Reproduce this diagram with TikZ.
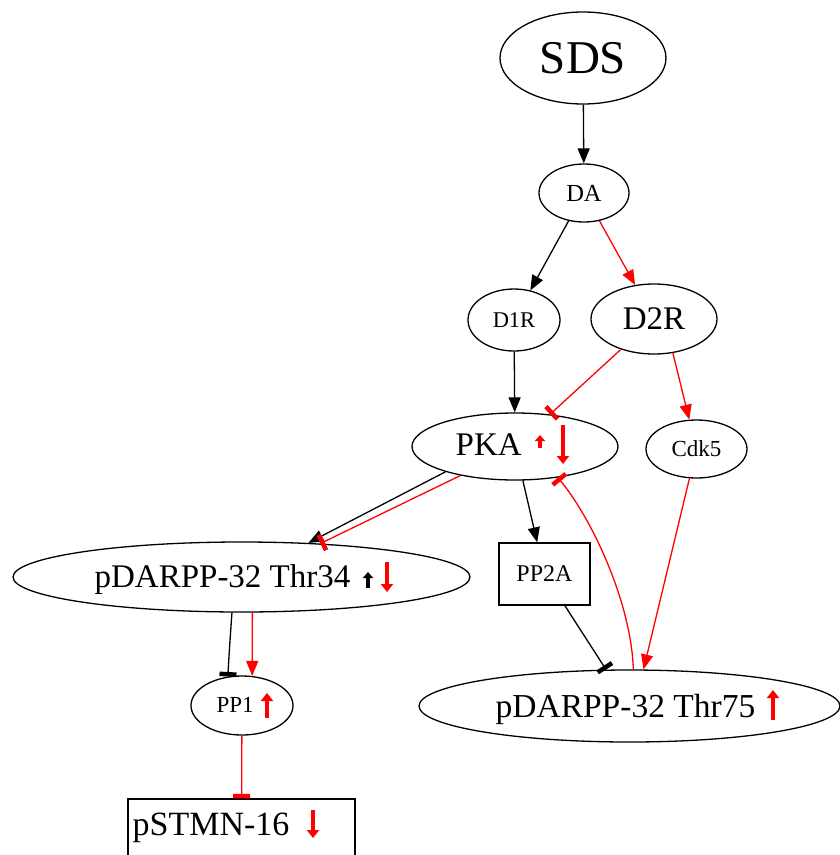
\documentclass[tikz,border=0pt]{standalone}
\usepackage{fontspec}
\setmainfont{Liberation Serif}
\usetikzlibrary{arrows.meta,shapes.geometric}
\begin{document}
\begin{tikzpicture}[x=1pt,y=-1pt, line width=1.3pt,
  ell/.style={draw, ellipse, inner sep=0pt, line width=1.3pt},
  box/.style={draw, rectangle, inner sep=0pt, line width=1.3pt},
  lab/.style={inner sep=0pt, anchor=base west},
  act/.style={-{Triangle[length=15pt,width=12pt]}},
  inh/.style={-{Rectangle[length=4.5pt,width=17pt]}},
  mkb/.style={line width=4.5pt, -{Triangle[length=8pt,width=12pt]}},
  mks/.style={line width=3.8pt, -{Triangle[length=6pt,width=10pt]}}]
\useasboundingbox (0,0) rectangle (840,855);

% nodes
\node[ell, minimum width=166pt, minimum height=92pt, font=\fontsize{47}{50}\selectfont] (sds) at (583,58) {SDS};
\node[ell, minimum width=90pt, minimum height=58pt, font=\fontsize{24.5}{28}\selectfont] (da) at (584,193) {DA};
\node[ell, minimum width=92pt, minimum height=62pt, font=\fontsize{22.5}{26}\selectfont] (d1r) at (514,320) {D1R};
\node[ell, minimum width=126pt, minimum height=70pt, font=\fontsize{33}{36}\selectfont] (d2r) at (654,319) {D2R};
\node[ell, minimum width=206pt, minimum height=67pt] (pka) at (515,446.5) {};
\node[lab, font=\fontsize{33}{36}\selectfont] (pkat) at (455,455) {PKA};
\node[ell, minimum width=101pt, minimum height=58pt, font=\fontsize{23}{26}\selectfont] (cdk5) at (696.5,449) {Cdk5};
\node[ell, minimum width=457pt, minimum height=70pt] (thr34) at (241.5,577) {};
\node[lab, font=\fontsize{33}{37}\selectfont] (thr34t) at (94,587) {pDARPP-32 Thr34};
\node[box, minimum width=91pt, minimum height=62pt, font=\fontsize{24}{27}\selectfont] (pp2a) at (544.5,574) {PP2A};
\node[ell, minimum width=102pt, minimum height=59pt] (pp1) at (242,705.5) {};
\node[lab, font=\fontsize{23}{26}\selectfont] (pp1t) at (216,712) {PP1};
\node[ell, minimum width=421pt, minimum height=72pt] (thr75) at (629.5,706) {};
\node[lab, font=\fontsize{33.5}{37}\selectfont] (thr75t) at (495,717) {pDARPP-32 Thr75};
\node[box, minimum width=227pt, minimum height=64pt] (pstmn) at (241.5,831) {};
\node[lab, font=\fontsize{34}{37}\selectfont] (pstmnt) at (132,835) {pSTMN-16};

% connectors
\draw[act] (sds) -- (da);
\draw[act] (da) -- (d1r);
\draw[act,red] (da) -- (d2r);
\draw[act] (d1r) -- (pka);
\draw[inh,red] (d2r) -- (pka);
\draw[act,red] (d2r.-61) -- (cdk5);
\draw[act] (pka.200) -- (thr34.27);
\draw[inh,red] (pka.208) -- (thr34.23);
\draw[act] (pka) -- (pp2a);
\draw[act,red] (cdk5) -- (thr75.69);
\draw[inh,red] (thr75.84) .. controls (631,600) and (590,516) .. (pka.324);
\draw[inh] (pp2a) -- (thr75);
\draw[inh] (thr34.255) .. controls (230,640) and (229,655) .. (pp1.116);
\draw[act,red] (thr34.287) -- (pp1.71);
\draw[inh,red] (pp1) -- (pstmn);

% trend markers
\draw[mks,red] (540,448) -- (540,435);
\draw[mkb,red] (563,425) -- (563,464);
\draw[mks,black] (368,588) -- (368,572);
\draw[mkb,red] (387,562) -- (387,592);
\draw[mkb,red] (267,718) -- (267,693);
\draw[mkb,red] (773,720) -- (773,690);
\draw[mkb,red] (313,810) -- (313,838);
\end{tikzpicture}
\end{document}
